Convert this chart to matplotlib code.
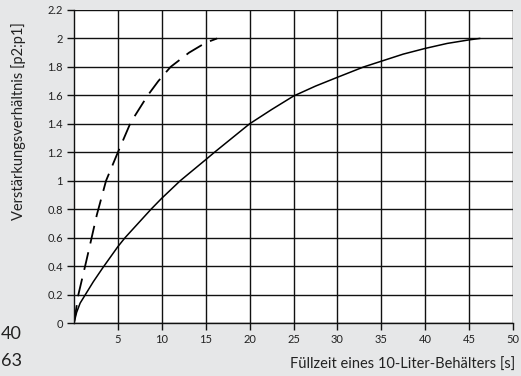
import matplotlib
matplotlib.use("Agg")
import matplotlib.pyplot as plt

# solid curve
solid_x = [0, 0.3, 0.7, 1.3, 2.2, 3.3, 5.0, 5.82, 7.3, 8.78, 10, 12.1, 15, 16,
           18, 20, 22.5, 25, 27.5, 30, 33.0, 35, 37.5, 40, 42.5, 45, 46.2]
solid_y = [0, 0.075, 0.14, 0.2, 0.29, 0.39, 0.537, 0.6, 0.7, 0.8, 0.877, 1.0, 1.148, 1.2,
           1.3, 1.4, 1.5, 1.595, 1.665, 1.727, 1.8, 1.84, 1.89, 1.93, 1.965, 1.99, 2.0]

# dashed curve
dash_x = [0, 0.5, 1.38, 1.9, 2.6, 3.65, 5.0, 6.46, 8.4, 9.6, 11.0, 13.1, 15.0, 16.3]
dash_y = [0, 0.2, 0.43, 0.57, 0.76, 1.0, 1.2, 1.41, 1.6, 1.7, 1.8, 1.9, 1.97, 2.0]

xticks = [5, 10, 15, 20, 25, 30, 35, 40, 45, 50]
yticks = [0, 0.2, 0.4, 0.6, 0.8, 1, 1.2, 1.4, 1.6, 1.8, 2, 2.2]
ytick_labels = ["0", "0.2", "0.4", "0.6", "0.8", "1", "1.2", "1.4", "1.6", "1.8", "2", "2.2"]

bg = "#e6e7e8"
txt = "#222222"
plt.rcParams['font.family'] = ['Lato', 'DejaVu Sans']

fig = plt.figure(figsize=(5.21, 3.76), dpi=100, facecolor=bg)
ax = fig.add_axes([74/521, 1 - 323/376, (513 - 74)/521, (323 - 10)/376])
ax.set_facecolor("white")

ax.plot(solid_x, solid_y, color="black", lw=1.1)
ax.plot(dash_x, dash_y, color="black", lw=1.3, dashes=(10, 5))

ax.set_xlim(0, 50)
ax.set_ylim(0, 2.2)
ax.set_xticks(xticks)
ax.set_yticks(yticks)
ax.set_yticklabels(ytick_labels)
ax.grid(True, color="#111111", lw=1.0)
ax.set_axisbelow(True)
for s in ["top", "right"]:
    ax.spines[s].set_visible(False)
for s in ["left", "bottom"]:
    ax.spines[s].set_color("#111111")
    ax.spines[s].set_linewidth(1.0)
ax.tick_params(length=5, width=1.0, color="#111111", labelsize=8, labelcolor=txt, pad=3)

fig.text(19/521, 1 - 121/376, "Verstärkungsverhältnis [p2:p1]", rotation=90,
         ha="center", va="center", fontsize=10.5, color=txt)
fig.text(515/521, 1 - 365/376, "Füllzeit eines 10-Liter-Behälters [s]",
         ha="right", va="center", fontsize=10.5, color=txt)
fig.text(1/521, 1 - 334/376, "40", ha="left", va="center", fontsize=13, color=txt)
fig.text(1/521, 1 - 361/376, "63", ha="left", va="center", fontsize=13, color=txt)

fig.savefig("out.png", dpi=100, facecolor=bg)
